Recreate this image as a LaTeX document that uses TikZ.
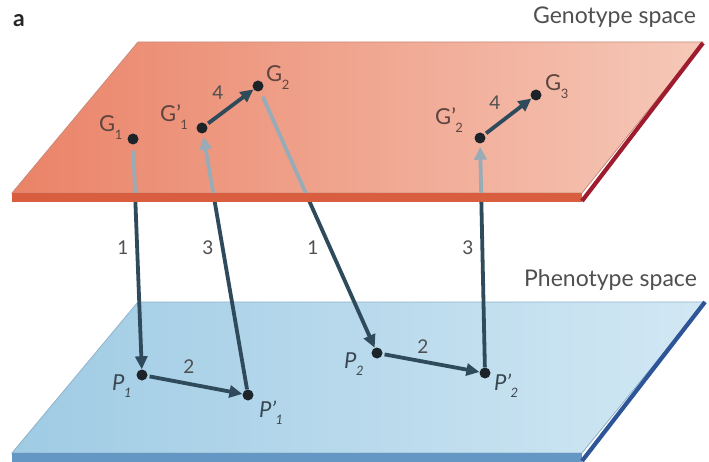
\documentclass[tikz,border=0pt]{standalone}
\usepackage{fontspec}
\setmainfont{Lato}
\usetikzlibrary{arrows.meta,calc}
\definecolor{topL}{HTML}{EA8368}
\definecolor{topR}{HTML}{F6C8B8}
\definecolor{topBand}{HTML}{D95E40}
\definecolor{topEdge}{HTML}{9E1C2E}
\definecolor{topLine}{HTML}{C98C7C}
\definecolor{botL}{HTML}{9FCBE4}
\definecolor{botR}{HTML}{D2E8F4}
\definecolor{botBand}{HTML}{6497C4}
\definecolor{botEdge}{HTML}{2D5597}
\definecolor{botLine}{HTML}{8DB2CA}
\definecolor{arrdark}{HTML}{2E4A5B}
\definecolor{arrlight}{HTML}{98ACB8}
\definecolor{dotc}{HTML}{1C2329}
\definecolor{gtext}{HTML}{5E4540}
\definecolor{ptext}{HTML}{3A4852}
\definecolor{ntext}{HTML}{4F4F4F}
\newcommand\glab[3]{#1#2\raisebox{-0.36em}{\kern-0.5pt\fontsize{13}{13}\selectfont #3}}
\begin{document}
\begin{tikzpicture}[x=1pt,y=-1pt,
  arrd/.style={line width=3.8pt, draw=arrdark, -{Triangle[length=13pt,width=12pt]}},
  arrl/.style={line width=3.8pt, draw=arrlight, -{Triangle[length=13pt,width=12pt]}},
  pt/.style={circle, inner sep=0pt, minimum size=11pt},
  gl/.style={anchor=base west, inner sep=0pt, text=gtext, font=\fontsize{22}{22}\selectfont},
  pl/.style={anchor=base west, inner sep=0pt, text=ptext, font=\fontsize{22}{22}\selectfont\itshape},
  num/.style={inner sep=0pt, text=ntext, font=\fontsize{19}{19}\selectfont},
  title/.style={anchor=base east, inner sep=0pt, text=ntext, font=\fontsize{23}{23}\selectfont}
]
\useasboundingbox (0,0) rectangle (709,462);
\fill[white] (0,0) rectangle (709,462);

% point anchors
\node[pt] (G1)  at (133,139) {};
\node[pt] (G1p) at (202,128) {};
\node[pt] (G2)  at (258,86) {};
\node[pt] (G2p) at (480,138) {};
\node[pt] (G3)  at (536,95) {};
\node[pt] (P1)  at (142,375) {};
\node[pt] (P1p) at (248,395) {};
\node[pt] (P2)  at (377,353) {};
\node[pt] (P2p) at (485,373) {};

% bottom plane
\shade[left color=botL, right color=botR, draw=botLine, line width=0.8pt]
  (138,302) -- (705,302) -- (582,453) -- (12,453) -- cycle;
\fill[botBand] (12,453) -- (582,453) -- (582,462) -- (12,462) -- cycle;
\draw[botEdge, line width=4.2pt] (582,461) -- (705,302);

% vertical arrows (dark parts)
\draw[arrd, shorten <=6pt] (G1) -- (P1);
\draw[arrd, shorten >=3pt] (P1p) -- (G1p);
\draw[arrd, shorten <=6pt] (G2) -- (P2);
\draw[arrd, shorten >=3pt] (P2p) -- (G2p);

% arrows 2
\draw[arrd, shorten <=2pt] (P1) -- (P1p);
\draw[arrd, shorten <=2pt] (P2) -- (P2p);

% top plane
\shade[left color=topL, right color=topR, draw=topLine, line width=0.8pt]
  (138,42) -- (703,42) -- (582,193) -- (12,193) -- cycle;
\fill[topBand] (12,193) -- (582,193) -- (582,202) -- (12,202) -- cycle;
\draw[topEdge, line width=4.2pt] (582,201) -- (703,43);

% light parts of the vertical arrows seen on the top plane
\begin{scope}
\clip (138,42) -- (703,42) -- (582,193) -- (12,193) -- cycle;
\draw[arrl, shorten <=6pt] (G1) -- (P1);
\draw[arrl, shorten >=3pt] (P1p) -- (G1p);
\draw[arrl, shorten <=6pt] (G2) -- (P2);
\draw[arrl, shorten >=3pt] (P2p) -- (G2p);
\end{scope}

% arrows 4
\draw[arrd, shorten <=2pt] (G1p) -- (G2);
\draw[arrd, shorten <=2pt] (G2p) -- (G3);

% dots
\foreach \p in {G1,G1p,G2,G2p,G3,P1,P1p,P2,P2p}
  \fill[dotc] (\p) circle (5.5pt);

% point labels
\node[gl] (lG1)  at (99,132)  {\glab{G}{}{1}};
\node[gl] (lG1p) at (160,122) {\glab{G}{\textquoteright}{1}};
\node[gl] (lG2)  at (266,82)  {\glab{G}{}{2}};
\node[gl] (lG2p) at (435,125) {\glab{G}{\textquoteright}{2}};
\node[gl] (lG3)  at (545,91)  {\glab{G}{}{3}};
\node[pl] (lP1)  at (112,390) {\glab{P}{}{1}};
\node[pl] (lP1p) at (259,417) {\glab{P}{\textquoteright}{1}};
\node[pl] (lP2)  at (344,368) {\glab{P}{}{2}};
\node[pl] (lP2p) at (494,390) {\glab{P}{\textquoteright}{2}};

% step numbers
\node[num] (n1a) at (123,248) {1};
\node[num] (n3a) at (208,248) {3};
\node[num] (n1b) at (313,248) {1};
\node[num] (n3b) at (468,248) {3};
\node[num] (n2a) at (189,367) {2};
\node[num] (n2b) at (423,347) {2};
\node[num] (n4a) at (218,93)  {4};
\node[num] (n4b) at (495,103) {4};

% titles
\node[title] (tG) at (696,24) {Genotype space};
\node[title] (tP) at (697,287) {Phenotype space};
\node[anchor=base west, inner sep=0pt, font=\fontsize{23}{23}\selectfont\bfseries, text=black!85] (ta) at (13,27) {a};
\end{tikzpicture}
\end{document}
